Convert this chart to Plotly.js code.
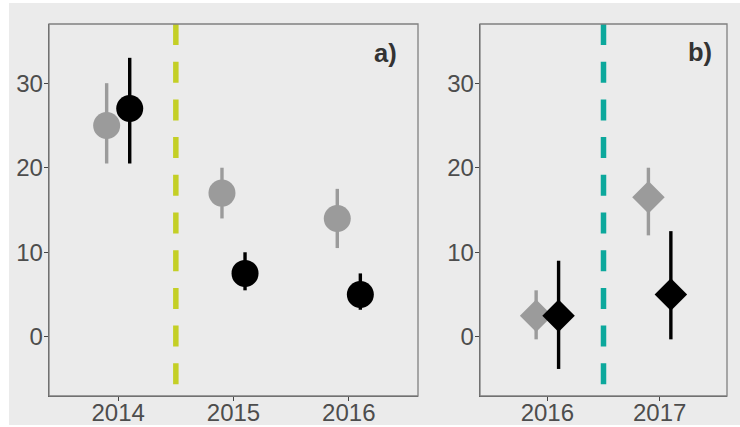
<!DOCTYPE html>
<html>
<head>
<meta charset="utf-8">
<script src="https://cdn.plot.ly/plotly-3.0.1.min.js"></script>
<style>html,body{margin:0;padding:0;background:#fff}#chart{width:740px;height:427px}</style>
</head>
<body>
<div id="chart"></div>
<script>
// Panel a
const yearsA = ["2014", "2015", "2016"];
const greyA = [25, 17, 14];
const greyAHi = [30, 20, 17.5];
const greyALo = [20.5, 14, 10.5];
const blackA = [27, 7.5, 5];
const blackAHi = [33, 10, 7.5];
const blackALo = [20.5, 5.5, 3.2];
// Panel b
const yearsB = ["2016", "2017"];
const greyB = [2.5, 16.5];
const greyBHi = [5.5, 20];
const greyBLo = [-0.3, 12];
const blackB = [2.5, 5];
const blackBHi = [9, 12.5];
const blackBLo = [-3.8, -0.3];

const dodge = 0.1;
const GREY = "#9B9B9B", BLACK = "#000000";
const W = 740, H = 427;

function trace(years, vals, hi, lo, off, color, symbol, size, xa, ya) {
  return {
    type: "scatter", mode: "markers",
    x: years.map((_, i) => i + off), y: vals,
    xaxis: xa, yaxis: ya,
    marker: {color: color, size: size, symbol: symbol, line: {width: 0}},
    error_y: {type: "data", symmetric: false,
      array: vals.map((v, i) => hi[i] - v),
      arrayminus: vals.map((v, i) => v - lo[i]),
      color: color, thickness: 3.4, width: 0},
    showlegend: false, hoverinfo: "skip"
  };
}

const data = [
  trace(yearsA, greyA, greyAHi, greyALo, -dodge, GREY, "circle", 27, "x", "y"),
  trace(yearsA, blackA, blackAHi, blackALo, dodge, BLACK, "circle", 27, "x", "y"),
  trace(yearsB, greyB, greyBHi, greyBLo, -dodge, GREY, "diamond", 25, "x2", "y2"),
  trace(yearsB, blackB, blackBHi, blackBLo, dodge, BLACK, "diamond", 25, "x2", "y2")
];

const tickFont = {family: "Liberation Sans, Arial, sans-serif", size: 24, color: "#4D4D4D"};
const yDom = [1 - 396 / H, 1 - 24 / H];
function xax(n, dom, years) {
  return {domain: dom, range: [-0.6, n - 1 + 0.6], tickvals: years.map((_, i) => i), ticktext: years,
    showgrid: false, zeroline: false, showline: true, linecolor: "#444", linewidth: 1.3, mirror: false,
    ticks: "outside", ticklen: 4, tickcolor: "#444", tickfont: tickFont, ticklabelstandoff: -9,
    fixedrange: true, automargin: false};
}
function yax(anchor) {
  return {domain: yDom, range: [-7, 37], tickvals: [0, 10, 20, 30], anchor: anchor,
    showgrid: false, zeroline: false, showline: true, linecolor: "#555", linewidth: 1.3, mirror: false,
    ticks: "outside", ticklen: 4, tickcolor: "#444", tickfont: tickFont, ticklabelstandoff: -4,
    fixedrange: true, automargin: false};
}

const layout = {
  width: W, height: H,
  margin: {l: 0, r: 0, t: 0, b: 0},
  paper_bgcolor: "#FFFFFF", plot_bgcolor: "#EBEBEB",
  xaxis: Object.assign(xax(3, [49 / W, 418 / W], yearsA), {anchor: "y"}),
  yaxis: yax("x"),
  xaxis2: Object.assign(xax(2, [480 / W, 727 / W], yearsB), {anchor: "y2"}),
  yaxis2: yax("x2"),
  shapes: [
    {type: "rect", xref: "paper", yref: "paper", x0: 9 / W, x1: 1, y0: 1 - 425 / H, y1: 1 - 3 / H,
      fillcolor: "#EBEBEB", line: {width: 0}, layer: "below"},
    {type: "rect", xref: "x domain", yref: "y domain", x0: 0, x1: 1, y0: 0, y1: 1,
      line: {color: "#808080", width: 1.3}, fillcolor: "rgba(0,0,0,0)", layer: "above"},
    {type: "rect", xref: "x2 domain", yref: "y2 domain", x0: 0, x1: 1, y0: 0, y1: 1,
      line: {color: "#808080", width: 1.3}, fillcolor: "rgba(0,0,0,0)", layer: "above"},
    {type: "line", xref: "x", yref: "y domain", x0: 0.5, x1: 0.5, y0: 1, y1: 0,
      line: {color: "#C4CF26", width: 5.5, dash: "21px,16.7px"}, layer: "below"},
    {type: "line", xref: "x2", yref: "y2 domain", x0: 0.5, x1: 0.5, y0: 1, y1: 0,
      line: {color: "#0CA89C", width: 5.5, dash: "21px,16.7px"}, layer: "below"}
  ],
  annotations: [
    {text: "<b>a)</b>", xref: "paper", yref: "paper", x: 385 / W, y: 1 - 53 / H, showarrow: false,
      xanchor: "center", yanchor: "middle", font: {family: "Liberation Sans, Arial, sans-serif", size: 25.5, color: "#333333"}},
    {text: "<b>b)</b>", xref: "paper", yref: "paper", x: 700 / W, y: 1 - 52 / H, showarrow: false,
      xanchor: "center", yanchor: "middle", font: {family: "Liberation Sans, Arial, sans-serif", size: 25.5, color: "#333333"}}
  ]
};

Plotly.newPlot("chart", data, layout, {displayModeBar: false, staticPlot: true});
</script>
</body>
</html>
